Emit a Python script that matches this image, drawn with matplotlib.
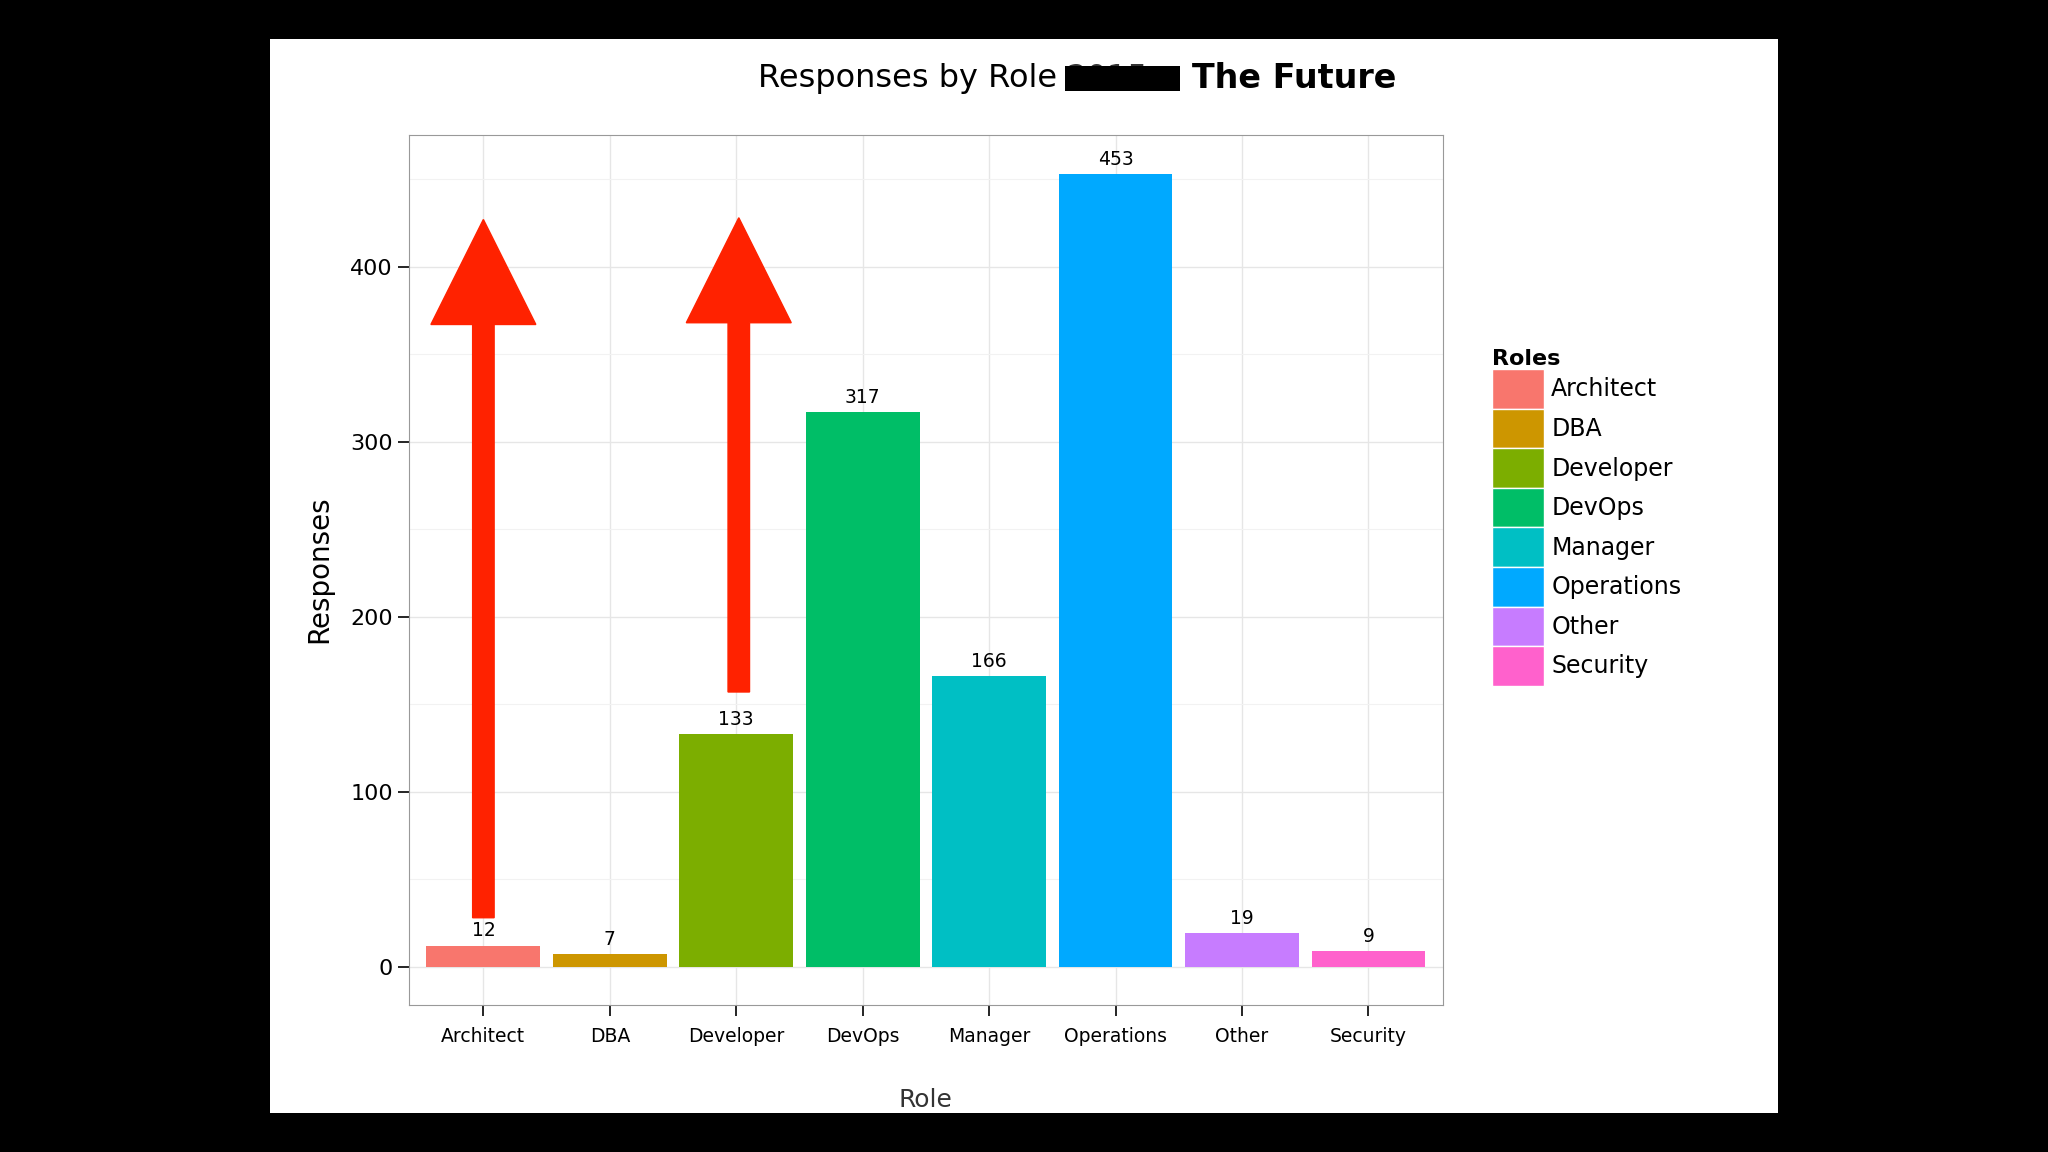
import matplotlib.pyplot as plt
from matplotlib.patches import Rectangle, FancyArrow

roles = ['Architect', 'DBA', 'Developer', 'DevOps', 'Manager', 'Operations', 'Other', 'Security']
responses = [12, 7, 133, 317, 166, 453, 19, 9]
colors = ['#F8766D', '#CD9600', '#7CAE00', '#00BE67', '#00BFC4', '#00A9FF', '#C77CFF', '#FF61CC']
arrow_x = [0, 2.02]
arrow_from = [28, 157]
arrow_to = [427, 428]

fig = plt.figure(figsize=(20.48, 11.52), dpi=100, facecolor='black')
fig.patches.append(Rectangle((0.132, 0.034), 0.736, 0.932, transform=fig.transFigure,
                             facecolor='white', zorder=-10))

ax = fig.add_axes([0.1996, 0.128, 0.505, 0.755])
ax.set_zorder(2)
ax.set_facecolor('white')
x = range(len(roles))
ax.bar(x, responses, width=0.9, color=colors, zorder=3)
for xi, v in zip(x, responses):
    ax.text(xi, v + 3, str(v), ha='center', va='bottom', fontsize=13.5, zorder=4)

for xa, y0, y1 in zip(arrow_x, arrow_from, arrow_to):
    ax.add_patch(FancyArrow(xa, y0, 0, y1 - y0, width=0.17, head_width=0.83,
                            head_length=60, length_includes_head=True,
                            color='#FF2200', zorder=5))

ax.set_xlim(-0.59, 7.59)
ax.set_ylim(-21.6, 475.4)
ax.set_xticks(list(x))
ax.set_xticklabels(roles, fontsize=13.5)
ax.set_yticks([0, 100, 200, 300, 400])
ax.set_yticks([50, 150, 250, 350, 450], minor=True)
ax.tick_params(axis='y', labelsize=16, length=8, width=1.2, which='major')
ax.tick_params(axis='y', which='minor', length=0)
ax.tick_params(axis='x', length=8, width=1.2, pad=8)
ax.grid(True, which='major', color='#E6E6E6', linewidth=1, zorder=0)
ax.grid(True, which='minor', axis='y', color='#F2F2F2', linewidth=0.8, zorder=0)
for s in ax.spines.values():
    s.set_color('#999999')
ax.set_ylabel('Responses', fontsize=20, labelpad=12)

handles = [Rectangle((0, 0), 1, 1, facecolor=c, edgecolor='white') for c in colors]
leg = fig.legend(handles, roles, title='Roles', loc='upper left',
                 bbox_to_anchor=(0.724, 0.705), frameon=False, fontsize=17,
                 title_fontproperties={'weight': 'bold', 'size': 16},
                 handlelength=2.2, handleheight=2.2, handletextpad=0.3,
                 labelspacing=0.0, borderaxespad=0)
leg._legend_box.align = 'left'

fig.text(0.516, 0.932, 'Responses by Role', ha='right', va='center', fontsize=23)
fig.text(0.521, 0.932, '2015', ha='left', va='center', fontsize=23, color='#333333')
fig.patches.append(Rectangle((0.520, 0.921), 0.056, 0.022, transform=fig.transFigure,
                             facecolor='black', zorder=5))
fig.text(0.582, 0.932, 'The Future', ha='left', va='center', fontsize=24, weight='bold')
fig.text(0.452, 0.045, 'Role', ha='center', va='center', fontsize=18, color='#333333')

fig.savefig('out.png', dpi=100, facecolor='black')
